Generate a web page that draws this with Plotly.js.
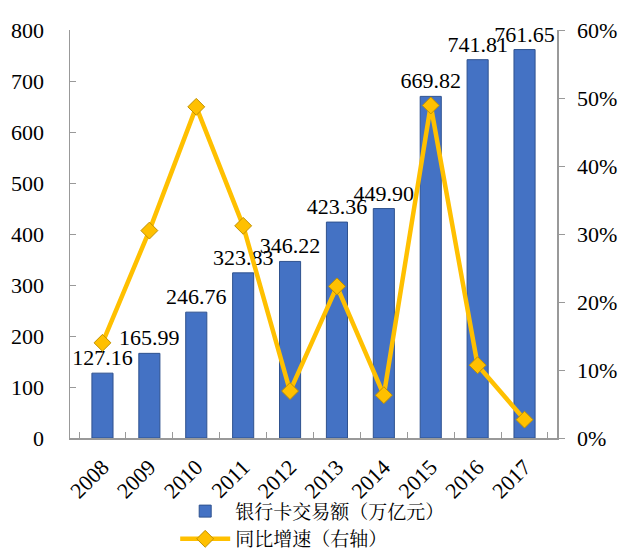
<!DOCTYPE html>
<html>
<head>
<meta charset="utf-8">
<script src="https://cdn.plot.ly/plotly-3.0.1.min.js"></script>
<style>html,body{margin:0;padding:0;background:#fff;}#chart{width:622px;height:554px;}</style>
</head>
<body>
<div id="chart"></div>
<script>
const years = ['2008','2009','2010','2011','2012','2013','2014','2015','2016','2017'];
const amounts = [127.16, 165.99, 246.76, 323.83, 346.22, 423.36, 449.90, 669.82, 741.81, 761.65];
const growth = [0.14, 0.305, 0.487, 0.312, 0.069, 0.223, 0.063, 0.489, 0.107, 0.027];
const barName = '银行卡交易额（万亿元）';
const lineName = '同比增速（右轴）';

const serif = '"Liberation Serif", "Times New Roman", "Noto Sans CJK SC", serif';

const traces = [
  {
    type: 'bar', x: years, y: amounts, name: barName,
    marker: {color: '#4472C4', line: {color: '#2F528F', width: 1}},
    width: 0.45,
    text: amounts.map(v => v.toFixed(2)), textposition: 'outside', constraintext: 'none',
    textfont: {family: serif, size: 22, color: '#000'},
    cliponaxis: false, hoverinfo: 'x+y'
  },
  {
    type: 'scatter', mode: 'lines+markers', x: years, y: growth, name: lineName, yaxis: 'y2',
    line: {color: '#FFC000', width: 4.5},
    marker: {symbol: 'diamond', size: 13, color: '#FFC000', line: {color: '#C09000', width: 1}},
    cliponaxis: false
  }
];

const layout = {
  width: 622, height: 554,
  margin: {l: 70, r: 65, t: 30, b: 116, autoexpand: false},
  paper_bgcolor: '#fff', plot_bgcolor: '#fff',
  font: {family: serif, size: 22, color: '#000'},
  showlegend: true,
  legend: {x: 0.216, xanchor: 'left', y: -0.133, yanchor: 'top', orientation: 'v',
           font: {family: '"Noto Serif CJK SC", "Noto Sans CJK SC", serif', size: 19, color: '#000'},
           itemwidth: 50, tracegroupgap: 0, bgcolor: 'rgba(0,0,0,0)', borderwidth: 0},
  xaxis: {type: 'category', showgrid: false, showline: true, linecolor: '#999', linewidth: 1.5,
          ticks: 'inside', ticklen: 6, tickcolor: '#999', tickson: 'boundaries', automargin: false,
          tickangle: -45, tickfont: {family: serif, size: 22}, ticklabelstandoff: 6, zeroline: false},
  yaxis: {range: [0, 800], dtick: 100, showgrid: false, showline: true, linecolor: '#999', linewidth: 1.5,
          ticks: 'inside', ticklen: 6, tickcolor: '#999', zeroline: false, automargin: false,
          tickfont: {family: serif, size: 22}, ticklabelstandoff: 20},
  yaxis2: {range: [0, 0.6], dtick: 0.1, tickformat: '.0%', overlaying: 'y', side: 'right',
           showgrid: false, showline: true, linecolor: '#999', linewidth: 1.5, automargin: false,
           ticks: 'outside', ticklen: 6, tickcolor: '#999', zeroline: false,
           tickfont: {family: serif, size: 22}, ticklabelstandoff: 8}
};

Plotly.newPlot('chart', traces, layout, {staticPlot: true, displayModeBar: false});
</script>
</body>
</html>
